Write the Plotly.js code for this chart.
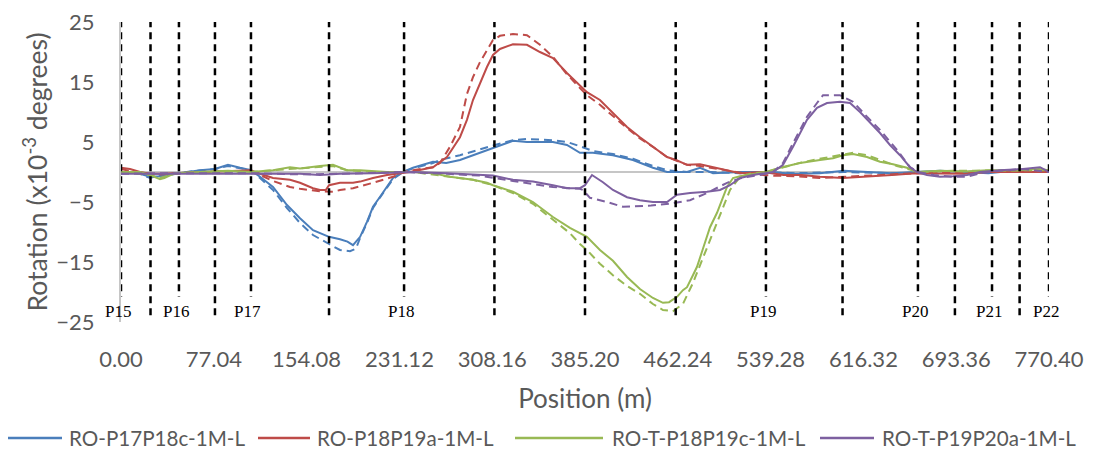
<!DOCTYPE html>
<html>
<head>
<meta charset="utf-8">
<script src="https://cdn.plot.ly/plotly-3.0.1.min.js"></script>
<style>html,body{margin:0;padding:0;background:#fff;}#chart{width:1114px;height:452px;}</style>
</head>
<body>
<div id="chart"></div>
<script>
// Series names
const seriesNames = ["RO-P17P18c-1M-L", "RO-P18P19a-1M-L", "RO-T-P18P19c-1M-L", "RO-T-P19P20a-1M-L"];

// [position (m), rotation (x10^-3 deg)] — solid = measured, dashed = companion series
const blueSolid = [[0,0],[7.5,0],[15.8,-0.3],[24.1,-0.8],[32.4,-0.7],[44.8,-0.3],[55,0],[65.6,0.3],[78,0.5],[88.8,1.2],[98.8,0.7],[107.9,0.3],[115.4,-0.8],[126.2,-2.5],[137.8,-5.5],[148.6,-7.7],[159.4,-9.7],[172.7,-10.8],[181.8,-11.2],[188,-11.6],[192.6,-12.2],[198.5,-10.8],[204.2,-8.3],[209.2,-5.8],[214.8,-4.2],[220.8,-2.5],[225.8,-1.0],[234.1,0],[242.4,0.7],[259,1.7],[270,1.5],[281.4,2.0],[298,3.2],[310.5,4.0],[325.4,5.2],[337,5.0],[358.6,5.0],[370.2,4.5],[381,3.2],[391.8,3.2],[408.4,2.8],[425,2.0],[441.6,0.7],[453.3,0],[469.9,0],[480.7,0.7],[491.5,-0.2],[513.9,0],[535.4,0],[560,-0.3],[580,-0.2],[600,0.2],[620,0],[640,-0.2],[660,0],[680,0.2],[700,0],[720,-0.2],[740,0.2],[755,0],[770.4,0]];
const blueDash = [[0,0],[15.8,-0.3],[24.1,-1.0],[32.4,-0.5],[44.8,-0.2],[65.6,0.2],[78,0.5],[88.8,1.0],[107.9,0.3],[115.4,-1.0],[126.2,-3.0],[137.8,-6.0],[148.6,-8.5],[159.4,-10.5],[165.2,-11.2],[172.7,-12.0],[181.8,-13.0],[190.1,-13.2],[195,-12.8],[198.5,-11.0],[204.2,-8.5],[209.2,-6.0],[214.8,-4.3],[225.8,-1.2],[234.1,0],[242.4,0.6],[259,1.5],[264.8,2.0],[281.4,2.8],[298,3.8],[310.5,4.5],[325.4,5.3],[337,5.5],[358.6,5.3],[370.2,5.0],[381,4.3],[391.8,3.5],[408.4,3.0],[425,2.2],[441.6,1.0],[453.3,0.3],[470,0],[490,0],[513.9,-0.2],[535.4,0],[560,-0.2],[600,0],[640,-0.2],[680,0],[720,0.1],[770.4,0]];
const redSolid = [[0,0.7],[7.5,0.5],[15.8,0],[24.1,-0.3],[32.4,-0.3],[44.8,-0.2],[65.6,0],[88.8,0.2],[107.9,0.3],[115.4,-0.3],[126.2,-1.0],[140.3,-1.3],[148.6,-1.8],[159.4,-2.7],[165.2,-3.0],[170,-3.0],[172.7,-2.2],[181.8,-1.8],[192.6,-1.8],[198.5,-1.6],[209.2,-1.0],[220.8,-0.5],[231.6,-0.2],[239.9,0],[259,0.8],[270.6,2.5],[281.4,5.8],[287.2,8.7],[292.2,12.0],[298,14.8],[303.8,17.5],[308.8,19.5],[314.6,20.5],[325.4,21.3],[337,21.2],[347.8,20.0],[358.6,19.0],[370.2,16.5],[381,14.5],[386.8,13.3],[397.6,12.0],[408.4,9.8],[420.1,7.5],[430.8,5.8],[441.6,4.2],[453.3,2.5],[460.8,2.0],[469.9,1.2],[480.7,1.3],[489.5,0.9],[503.1,0.3],[513.9,-0.2],[533,0],[550,-0.5],[565,-0.5],[580.3,-0.8],[599.4,-1.0],[620,-0.8],[640,-0.5],[660,-0.2],[680,-0.3],[700,-0.3],[720,0],[740,0],[770.4,0]];
const redDash = [[0,0.5],[15.8,-0.2],[32.4,-0.4],[65.6,0],[107.9,0.2],[115.4,-0.5],[126.2,-1.5],[140.3,-2.5],[148.6,-2.8],[165.2,-3.2],[176,-3.3],[181.8,-3.0],[192.6,-2.7],[209.2,-1.8],[225.8,-0.8],[235,0],[242.4,0.3],[259,0.8],[264.8,1.5],[273.1,4.2],[281.4,7.5],[287.2,13.0],[292.2,15.8],[298,18.3],[303.8,20.3],[308.8,22.0],[314.6,22.7],[325.4,23.0],[337,22.8],[347.8,21.2],[358.6,19.2],[370.2,16.3],[381,14.0],[386.8,12.8],[397.6,11.2],[408.4,9.3],[420.1,7.3],[430.8,5.6],[441.6,4.2],[453.3,2.5],[469.9,1.2],[480.7,1.0],[503.1,0.2],[520,-0.3],[540,-0.6],[560,-0.7],[580,-1.0],[600,-0.8],[630,-0.4],[660,-0.2],[700,0],[740,0],[770.4,0]];
const greenSolid = [[0,0],[15.8,0],[24.1,-0.5],[32.4,-1.2],[36,-1.0],[44.8,-0.2],[65.6,0],[88.8,0.2],[107.9,0],[126.2,0.3],[140.3,0.8],[148.6,0.6],[165.2,1.0],[176,1.2],[187.6,0.3],[198.5,0.3],[220.8,0],[242.4,0],[259,-0.2],[273.1,-0.8],[292.2,-1.3],[303.8,-1.8],[308.8,-2.2],[325.4,-3.3],[342,-5.0],[358.6,-7.5],[372.7,-9.3],[386.8,-10.8],[397.6,-13.0],[408.4,-14.8],[420.1,-17.5],[430.8,-19.5],[441.6,-21.0],[449.9,-21.8],[455,-21.7],[461.6,-20.8],[466.5,-19.7],[469.9,-19.2],[474.8,-17.2],[478.2,-15.8],[482.3,-13.3],[486.5,-10.8],[489,-9.2],[494.8,-6.8],[499.8,-4.0],[503.1,-2.5],[508.1,-1.0],[513.9,-0.7],[522.2,-0.4],[535.4,0],[547.1,0.7],[563.7,1.5],[580.3,2.0],[591.1,2.3],[599.4,2.8],[607.7,3.0],[619.3,2.5],[630.1,1.7],[640.9,1.3],[652.5,0.7],[660.8,0],[680,0.2],[700,0.1],[720,0.3],[745,0.3],[762,0.5],[770.4,0.3]];
const greenDash = [[0,0],[24.1,-0.5],[32.4,-1.0],[44.8,-0.3],[65.6,0],[107.9,0],[126.2,0.3],[148.6,0.6],[165.2,0.9],[176,1.0],[187.6,0.3],[209.2,0],[242.4,0],[273.1,-0.8],[292.2,-1.3],[308.8,-2.2],[325.4,-3.5],[342,-5.3],[358.6,-8.0],[372.7,-10.2],[381,-12.0],[386.8,-13.0],[397.6,-15.3],[408.4,-17.2],[420.1,-19.0],[430.8,-20.3],[441.6,-22.0],[449.9,-23.0],[458.2,-23.2],[466.5,-22.0],[474.8,-18.5],[483.2,-14.2],[491.5,-10.2],[499,-6.3],[505.6,-3.0],[513.9,-0.8],[522.2,-0.3],[535.4,0],[550,0.8],[565,1.6],[580,2.2],[595,2.8],[607.7,3.2],[619.3,2.8],[630.1,2.0],[644.2,1.0],[655,0.4],[662,0],[690,0.2],[730,0.2],[770.4,0.3]];
const purpleSolid = [[0,-0.3],[15.8,-0.3],[32.4,-0.2],[65.6,-0.2],[107.9,-0.2],[126.2,-0.3],[148.6,-0.3],[165.2,-0.5],[181.8,-0.3],[209.2,-0.2],[235,0],[242.4,0],[270.6,-0.2],[298,-0.5],[308.8,-0.6],[325.4,-1.3],[342,-1.6],[358.6,-2.2],[370.2,-2.7],[381,-2.7],[385.2,-2.2],[391,-0.5],[400.1,-1.7],[408.4,-3.0],[420.1,-4.2],[430.8,-4.7],[441.6,-5.0],[453.3,-5.0],[461.6,-3.8],[472.4,-3.5],[486.5,-3.3],[497.3,-3.0],[505.6,-2.2],[513.9,-1.0],[524.7,-0.5],[541.3,0],[549.6,1.2],[557.9,4.2],[563.7,6.5],[569.5,8.7],[577.8,10.7],[586.1,11.5],[596.9,11.7],[605.2,11.5],[613.5,10.0],[621.8,8.3],[630.1,6.5],[638.4,4.5],[646.7,2.8],[655,0.8],[660.8,0],[669.1,-0.5],[679.9,-0.8],[690.7,-0.7],[702.3,-0.5],[713.1,0],[729.7,0.3],[748.8,0.5],[762.9,0.8],[770.4,0]];
const purpleDash = [[0,-0.3],[32.4,-0.2],[107.9,-0.2],[148.6,-0.4],[181.8,-0.3],[235,0],[270.6,-0.3],[298,-0.6],[325.4,-1.5],[358.6,-2.5],[381,-2.8],[383.5,-3.0],[389.3,-4.3],[403.4,-5.0],[416.7,-5.8],[440,-5.6],[458.2,-5.2],[472.4,-4.7],[486.5,-3.5],[503.1,-1.8],[515,-1.0],[530.5,-0.5],[541.3,0],[549.6,1.5],[557.9,4.8],[563.7,7.0],[569.5,9.2],[577.8,11.5],[582.8,12.8],[596.9,12.8],[607.7,11.7],[619.3,9.2],[630.1,7.0],[644.2,3.7],[655,0.8],[662,0],[675,-0.5],[690.7,-0.8],[702.3,-0.8],[713.1,-0.2],[729.7,0.2],[748.8,0.5],[770.4,0]];

// Piers and section lines (m)
const pierLabels = ["P15","P16","P17","P18","P19","P20","P21","P22"];
const pierPos = [0, 48.1, 107.9, 235.0, 535.4, 661.6, 723.1, 770.4];
const sectionPos = [24.5, 78.0, 172.7, 310.0, 385.2, 460.5, 599.0, 692.3, 746.0];

// Axis ticks
const xTickVals = [0, 77.04, 154.08, 231.12, 308.16, 385.20, 462.24, 539.28, 616.32, 693.36, 770.40];
const yTickVals = [-25, -15, -5, 5, 15, 25];

const colors = ["#4A7EBB", "#BE4B48", "#98B954", "#7D60A0"];
const solids = [blueSolid, redSolid, greenSolid, purpleSolid];
const dashes = [blueDash, redDash, greenDash, purpleDash];

const traces = [];
for (let i = 0; i < 4; i++) {
  traces.push({
    x: solids[i].map(p => p[0]), y: solids[i].map(p => p[1]),
    type: "scatter", mode: "lines", name: seriesNames[i],
    line: {color: colors[i], width: 2}, showlegend: false
  });
  traces.push({
    x: dashes[i].map(p => p[0]), y: dashes[i].map(p => p[1]),
    type: "scatter", mode: "lines", name: seriesNames[i] + " (dashed)",
    line: {color: colors[i], width: 2, dash: "8px,5px"}, showlegend: false
  });
}

const shapes = [];
const annotations = [];
pierPos.forEach(p => shapes.push({type: "line", xref: "x", yref: "y", x0: p, x1: p, y0: 25.3, y1: -20.8,
  line: {color: "#000", width: 2.5, dash: "7px,5px"}, layer: "above"}));
sectionPos.forEach(p => shapes.push({type: "line", xref: "x", yref: "y", x0: p, x1: p, y0: 25.3, y1: -24.3,
  line: {color: "#000", width: 2.5, dash: "7px,5px"}, layer: "above"}));

pierLabels.forEach((t, i) => annotations.push({
  x: pierPos[i], y: -23.3, xref: "x", yref: "y", text: t, showarrow: false, xshift: -3,
  font: {family: "Liberation Serif, Times New Roman, serif", size: 17, color: "#000"}
}));

// Legend drawn below the chart (layout pixel geometry → paper fractions)
const L = 121, W = 928, T = 22, H = 300;
const px = v => (v - L) / W;
const py = v => (T + H - v) / H;
const legendGeom = [[8, 62, 67], [258, 310, 315], [515, 603, 610], [820, 874, 880]];
const legendY = 438;
legendGeom.forEach((g, i) => {
  shapes.push({type: "line", xref: "paper", yref: "paper", x0: px(g[0]), x1: px(g[1]), y0: py(legendY), y1: py(legendY),
    line: {color: colors[i], width: 2.5}});
  annotations.push({xref: "paper", yref: "paper", x: px(g[2]), y: py(legendY), xanchor: "left", yanchor: "middle",
    text: seriesNames[i], showarrow: false, font: {family: "Lato, sans-serif", size: 20.6, color: "#595959"}});
});

const font = "Lato, Carlito, Calibri, sans-serif";
const layout = {
  width: 1114, height: 452,
  margin: {l: 121, r: 65, t: 22, b: 130},
  paper_bgcolor: "#fff", plot_bgcolor: "#fff",
  font: {family: font, color: "#595959"},
  showlegend: false,
  xaxis: {
    range: [0, 770.4], tickvals: xTickVals, ticktext: xTickVals.map(v => v.toFixed(2)),
    showgrid: false, zeroline: false, showline: false, ticks: "", automargin: false,
    ticklabelstandoff: 22, tickfont: {family: font, size: 22, color: "#595959"},
    title: {text: "Position (m)", font: {family: font, size: 26, color: "#595959"}, standoff: 18}
  },
  yaxis: {
    range: [-25, 25], tickvals: yTickVals, showgrid: false, automargin: false,
    zeroline: true, zerolinecolor: "#C6C6C6", zerolinewidth: 2,
    showline: true, linecolor: "#C6C6C6", linewidth: 2, ticks: "",
    ticklabelstandoff: 20, tickfont: {family: font, size: 22, color: "#595959"},
    title: {text: "Rotation (x10<sup>-3</sup> degrees)", font: {family: font, size: 26.5, color: "#595959"}, standoff: 1}
  },
  shapes: shapes, annotations: annotations
};

Plotly.newPlot("chart", traces, layout, {displayModeBar: false, staticPlot: true});
</script>
</body>
</html>
